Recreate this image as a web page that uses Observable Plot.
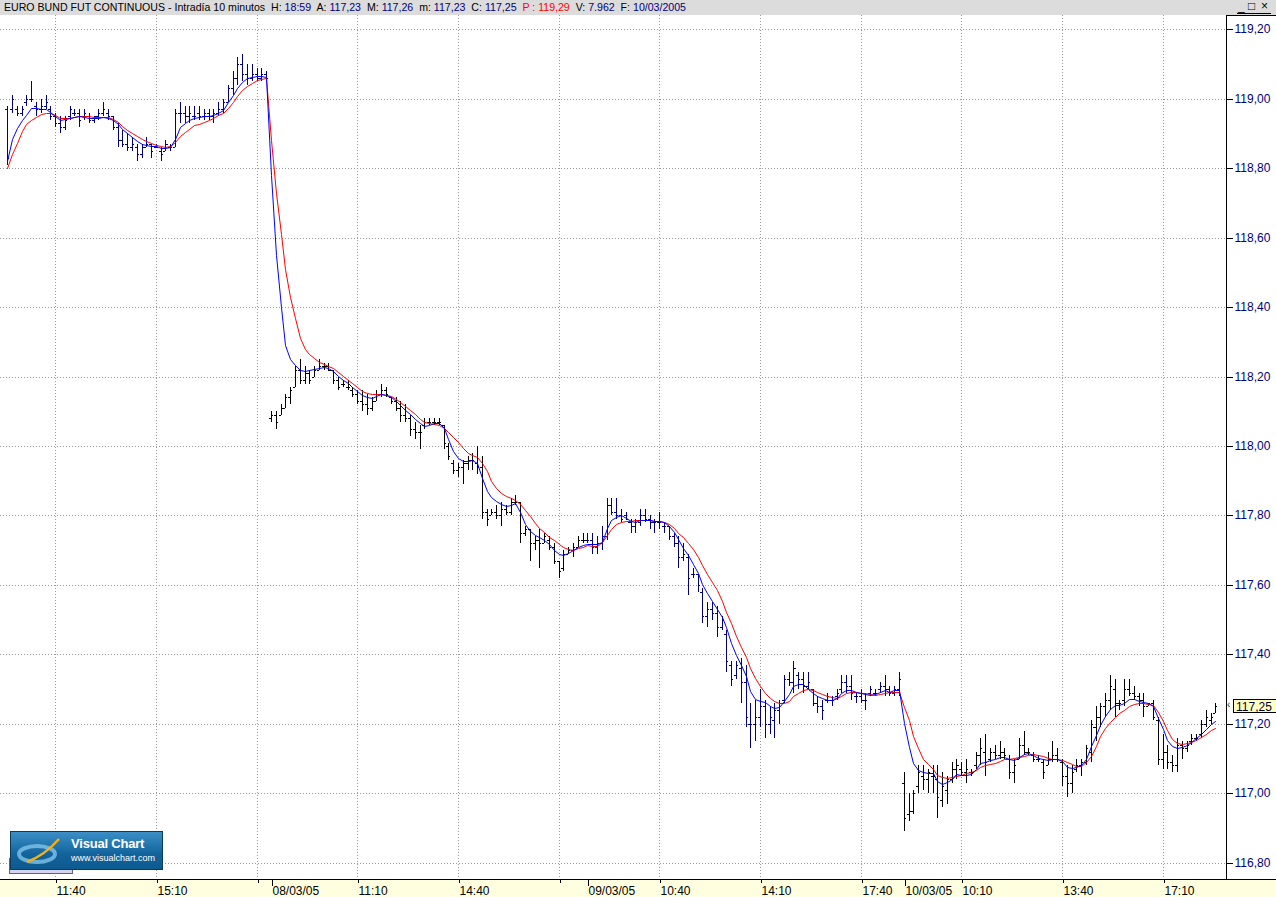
<!DOCTYPE html>
<html><head><meta charset="utf-8">
<script src="https://cdn.jsdelivr.net/npm/d3@7"></script>
<script src="https://cdn.jsdelivr.net/npm/@observablehq/plot@0.6"></script>
<style>
html,body{margin:0;padding:0;background:#fff;}
#wrap{position:relative;width:1276px;height:897px;overflow:hidden;font-family:"Liberation Sans",Arial,sans-serif;}
#header{position:absolute;left:0;top:0;width:1276px;height:15px;background:#dcdcdc;font-size:10.6px;line-height:15px;white-space:nowrap;color:#000;}
#header .t{position:absolute;left:4px;top:0;}
#header .v{color:#000080;}
#header .r{color:#ff0000;}
#btns{position:absolute;left:1237px;top:0px;width:34px;height:13px;border-bottom:1px solid #000;font-size:12px;line-height:13px;}
#btns span{position:absolute;top:0;}
#band{position:absolute;left:0;top:879px;width:1276px;height:17px;background:#ffffdf;border-top:1px solid #000;}
#rtop{position:absolute;left:1226px;top:15px;width:50px;height:1px;background:#000;}
#chart{position:absolute;left:0;top:15px;z-index:2;}
#price{position:absolute;left:1233px;width:43px;height:14px;background:#ffffc0;border:1px solid #000;border-right:none;font-size:12px;line-height:14px;color:#000040;padding-left:2px;box-sizing:border-box;z-index:3;}
#arrow{position:absolute;left:1227px;font-size:10px;line-height:10px;color:#333;z-index:3;}
#logoShadow{position:absolute;left:9px;top:858px;width:62px;height:14px;background:#d4d4f0;border:1px solid #606080;z-index:3;}
#logo{position:absolute;left:10px;top:831px;width:151px;height:37px;background:linear-gradient(#3b8fc6,#12639c 60%,#0d5a8e);border:1px solid #0b3b5e;z-index:4;color:#fff;}
#logo .a{position:absolute;left:60px;top:4px;font-size:13px;font-weight:bold;letter-spacing:-0.2px;}
#logo .b{position:absolute;left:60px;top:21px;font-size:9px;}
#logo svg{position:absolute;left:4px;top:5px;}
</style></head>
<body>
<div id="wrap">
  <div id="header"><span class="t">EURO BUND FUT CONTINUOUS - Intradía 10 minutos&nbsp; H: <span class="v">18:59</span>&nbsp; A: <span class="v" id="hA"></span>&nbsp; M: <span class="v" id="hM"></span>&nbsp; m: <span class="v" id="hm"></span>&nbsp; C: <span class="v" id="hC"></span>&nbsp; <span class="r">P : 119,29</span>&nbsp; V: <span class="v">7.962</span>&nbsp; F: <span class="v">10/03/2005</span></span>
    <div id="btns"><span style="left:1px">_</span><span style="left:11px">□</span><span style="left:24px">×</span></div>
  </div>
  <div id="band"></div>
  <div id="rtop"></div>
  <div id="chart"></div>
  <div id="logoShadow"></div>
  <div id="logo">
    <svg width="50" height="28" viewBox="0 0 50 28"><ellipse cx="22" cy="17" rx="18" ry="8" fill="none" stroke="#7fc4ea" stroke-width="4" opacity="0.8"/><path d="M12 25 Q30 18 44 2" fill="none" stroke="#f0b020" stroke-width="2.5"/></svg>
    <div class="a">Visual Chart</div>
    <div class="b">www.visualchart.com</div>
  </div>
  <div id="arrow">‹</div>
  <div id="price"></div>
</div>
<script>
// ---- bar data: 10-minute bars, index 0 = first bar on screen ----
// day 1 (07/03/05) 55 bars, day 2 (08/03/05) 66, day 3 (09/03/05) 66, day 4 (10/03/05) 66
const dayStart = [0, 55, 121, 187];
const dayColor = ["#000080", "#000000", "#000080", "#000000"];

const high = [
118.98,119.01,118.98,118.98,119.01,119.05,118.99,119.00,119.01,118.98,118.96,118.95,118.95,118.98,118.97,118.97,118.97,118.96,118.95,118.97,118.99,118.97,118.95,118.93,118.91,118.90,118.89,118.87,118.87,118.89,118.87,118.87,118.86,118.88,118.87,118.97,118.99,118.98,118.98,118.98,118.98,118.97,118.97,118.97,118.99,119.00,119.04,119.08,119.12,119.13,119.10,119.10,119.09,119.09,119.08,
118.10,118.10,118.12,118.15,118.17,118.23,118.25,118.23,118.22,118.23,118.25,118.24,118.24,118.22,118.20,118.19,118.19,118.17,118.16,118.16,118.15,118.14,118.16,118.18,118.17,118.14,118.14,118.13,118.12,118.09,118.07,118.06,118.08,118.08,118.08,118.08,118.06,118.01,
117.96,117.95,117.96,117.97,117.98,118.00,117.97,117.82,117.82,117.83,117.84,117.83,117.85,117.86,117.84,117.77,117.76,117.74,117.76,117.75,117.74,117.72,117.67,117.70,117.71,117.72,117.74,117.75,
117.75,117.75,117.74,117.77,117.85,117.85,117.85,117.82,117.81,117.79,117.79,117.82,117.82,117.80,117.79,117.81,117.78,117.77,117.75,117.74,117.72,117.69,117.65,117.63,117.59,117.55,117.55,117.54,117.51,117.47,117.38,117.38,117.39,117.37,117.26,117.27,117.30,117.27,117.25,117.26,117.27,117.34,117.35,117.38,117.35,117.35,117.35,117.30,117.28,117.27,117.29,117.28,117.30,117.34,117.34,117.34,117.29,117.30,117.29,117.31,117.30,117.32,117.34,117.31,117.31,117.35,
117.06,117.00,117.01,117.08,117.08,117.07,117.08,117.08,117.06,117.05,117.09,117.10,117.09,117.10,117.07,117.12,117.16,117.17,117.13,117.14,117.15,117.13,117.11,117.10,117.16,117.18,117.13,117.12,117.11,117.10,117.12,117.15,117.13,117.10,117.08,117.08,117.10,117.10,117.14,117.21,117.25,117.26,117.29,117.34,117.33,117.27,117.33,117.33,117.31,117.29,117.29,117.26,117.27,117.22,117.17,117.14,117.11,117.16,117.15,117.15,117.17,117.17,117.21,117.24,117.23,117.26
];
const low = [
118.81,118.96,118.95,118.95,118.98,118.99,118.95,118.96,118.97,118.94,118.92,118.90,118.91,118.94,118.95,118.92,118.94,118.93,118.93,118.94,118.95,118.94,118.91,118.86,118.86,118.85,118.85,118.82,118.83,118.86,118.83,118.86,118.82,118.85,118.85,118.86,118.93,118.93,118.93,118.94,118.94,118.94,118.94,118.93,118.95,118.96,118.99,119.01,119.04,119.05,119.04,119.05,119.05,119.05,119.05,
118.07,118.05,118.09,118.11,118.12,118.17,118.18,118.18,118.18,118.20,118.22,118.22,118.22,118.18,118.16,118.17,118.16,118.14,118.12,118.10,118.09,118.10,118.13,118.14,118.14,118.12,118.10,118.07,118.07,118.03,118.02,117.99,118.05,118.06,118.06,118.06,117.99,117.96,
117.92,117.91,117.89,117.93,117.93,117.92,117.79,117.77,117.80,117.79,117.77,117.80,117.80,117.83,117.72,117.74,117.67,117.70,117.65,117.72,117.70,117.66,117.62,117.64,117.69,117.68,117.71,117.72,
117.72,117.69,117.69,117.70,117.73,117.80,117.79,117.78,117.79,117.75,117.75,117.77,117.78,117.76,117.75,117.76,117.75,117.73,117.71,117.65,117.67,117.57,117.62,117.58,117.49,117.48,117.50,117.45,117.47,117.35,117.31,117.33,117.26,117.19,117.13,117.15,117.19,117.16,117.17,117.16,117.20,117.26,117.31,117.29,117.30,117.29,117.30,117.25,117.23,117.21,117.26,117.25,117.27,117.29,117.29,117.27,117.26,117.26,117.24,117.28,117.28,117.29,117.28,117.28,117.28,117.28,
116.89,116.92,116.94,117.00,117.01,117.00,117.00,116.93,116.96,116.97,117.03,117.04,117.05,117.03,117.05,117.07,117.08,117.05,117.09,117.10,117.10,117.10,117.04,117.03,117.10,117.11,117.11,117.09,117.09,117.04,117.08,117.09,117.09,117.02,116.99,117.00,117.06,117.05,117.08,117.09,117.15,117.19,117.22,117.24,117.22,117.24,117.25,117.28,117.27,117.25,117.22,117.25,117.21,117.08,117.07,117.07,117.06,117.06,117.10,117.12,117.14,117.15,117.16,117.19,117.20,117.23
];
const open = [
118.97,118.97,118.97,118.96,118.99,119.00,118.98,118.97,118.98,118.97,118.95,118.93,118.92,118.95,118.96,118.96,118.95,118.95,118.94,118.95,118.96,118.96,118.95,118.92,118.88,118.87,118.86,118.86,118.84,118.86,118.87,118.86,118.85,118.85,118.86,118.86,118.96,118.96,118.95,118.95,118.96,118.95,118.96,118.95,118.96,118.97,118.99,119.03,119.06,119.10,119.07,119.06,119.07,119.06,119.07,
118.08,118.09,118.09,118.11,118.14,118.17,118.22,118.19,118.21,118.20,118.22,118.23,118.23,118.22,118.19,118.18,118.17,118.16,118.15,118.13,118.12,118.11,118.13,118.15,118.16,118.14,118.13,118.11,118.09,118.08,118.05,118.04,118.06,118.07,118.07,118.07,118.06,118.00,
117.95,117.93,117.94,117.95,117.96,117.95,117.94,117.81,117.80,117.81,117.80,117.82,117.81,117.84,117.84,117.75,117.76,117.72,117.73,117.72,117.73,117.71,117.67,117.65,117.69,117.70,117.71,117.73,
117.73,117.73,117.71,117.72,117.74,117.83,117.81,117.80,117.80,117.78,117.77,117.78,117.80,117.79,117.78,117.78,117.77,117.77,117.74,117.72,117.68,117.68,117.63,117.63,117.58,117.51,117.53,117.52,117.48,117.46,117.37,117.34,117.36,117.32,117.20,117.20,117.22,117.25,117.20,117.21,117.24,117.27,117.33,117.32,117.34,117.33,117.31,117.30,117.26,117.25,117.27,117.27,117.28,117.30,117.32,117.31,117.28,117.28,117.27,117.29,117.29,117.30,117.31,117.30,117.29,117.30,
117.03,116.94,116.95,117.02,117.05,117.04,117.05,117.04,116.98,117.01,117.04,117.07,117.07,117.06,117.06,117.08,117.11,117.12,117.10,117.12,117.11,117.12,117.10,117.06,117.10,117.14,117.12,117.11,117.10,117.09,117.08,117.10,117.11,117.09,117.05,117.03,117.07,117.08,117.09,117.12,117.19,117.22,117.25,117.27,117.30,117.26,117.27,117.30,117.29,117.28,117.27,117.25,117.26,117.21,117.10,117.12,117.09,117.08,117.14,117.13,117.15,117.16,117.17,117.20,117.21,117.23
];
const close = [
118.83,119.00,118.96,118.97,119.00,119.00,118.97,118.98,118.99,118.95,118.93,118.92,118.94,118.97,118.96,118.94,118.96,118.94,118.95,118.96,118.97,118.95,118.92,118.88,118.87,118.86,118.87,118.84,118.86,118.87,118.85,118.86,118.84,118.87,118.86,118.96,118.96,118.95,118.96,118.95,118.95,118.96,118.95,118.96,118.97,118.99,119.03,119.06,119.10,119.07,119.06,119.07,119.06,119.07,119.06,
118.09,118.07,118.11,118.14,118.16,118.22,118.19,118.21,118.19,118.22,118.23,118.23,118.22,118.19,118.17,118.18,118.17,118.15,118.13,118.12,118.11,118.13,118.15,118.16,118.15,118.13,118.11,118.09,118.08,118.05,118.04,118.04,118.07,118.07,118.07,118.07,118.01,117.97,
117.93,117.94,117.95,117.96,117.96,117.94,117.81,117.79,117.81,117.80,117.82,117.81,117.84,117.84,117.75,117.76,117.72,117.73,117.72,117.74,117.71,117.67,117.64,117.69,117.70,117.71,117.73,117.73,
117.73,117.71,117.72,117.74,117.83,117.81,117.80,117.79,117.79,117.77,117.78,117.80,117.79,117.78,117.78,117.78,117.77,117.74,117.72,117.68,117.69,117.62,117.63,117.60,117.51,117.53,117.52,117.48,117.50,117.38,117.33,117.37,117.32,117.22,117.20,117.22,117.25,117.20,117.22,117.24,117.26,117.33,117.32,117.36,117.33,117.31,117.32,117.26,117.25,117.24,117.28,117.27,117.29,117.32,117.31,117.29,117.28,117.27,117.27,117.30,117.29,117.31,117.30,117.29,117.30,117.33,
116.93,116.95,117.00,117.06,117.04,117.06,117.05,116.99,117.02,117.04,117.07,117.08,117.06,117.07,117.06,117.11,117.13,117.09,117.12,117.11,117.12,117.11,117.06,117.08,117.14,117.12,117.12,117.10,117.10,117.06,117.10,117.11,117.10,117.05,117.03,117.06,117.08,117.09,117.13,117.20,117.22,117.25,117.27,117.31,117.26,117.26,117.30,117.29,117.28,117.27,117.25,117.26,117.22,117.10,117.12,117.09,117.08,117.14,117.13,117.14,117.16,117.16,117.20,117.22,117.22,117.25
];
// fast average (blue) and slow average (red)
const maFast = [
118.821,118.884,118.915,118.939,118.954,118.973,118.973,118.971,118.971,118.963,118.949,118.938,118.941,118.946,118.948,118.949,118.948,118.946,118.945,118.946,118.947,118.946,118.939,118.928,118.913,118.900,118.889,118.877,118.869,118.867,118.865,118.863,118.859,118.859,118.862,118.884,118.918,118.930,118.939,118.944,118.947,118.949,118.951,118.954,118.959,118.968,118.990,119.010,119.032,119.048,119.059,119.064,119.066,119.065,119.063,
118.78,118.55,118.40,118.29,118.25,118.232,118.220,118.217,118.219,118.222,118.226,118.227,118.224,118.215,118.203,118.191,118.182,118.171,118.159,118.148,118.140,118.137,118.143,118.149,118.148,118.141,118.131,118.118,118.104,118.093,118.079,118.066,118.058,118.060,118.066,118.066,118.053,118.02,
117.987,117.965,117.958,117.958,117.960,117.951,117.908,117.871,117.854,117.842,117.833,117.828,117.831,117.837,117.809,117.776,117.756,117.744,117.739,117.730,117.717,117.701,117.689,117.687,117.692,117.700,117.708,117.715,
117.718,117.719,117.717,117.723,117.764,117.788,117.796,117.800,117.793,117.784,117.781,117.787,117.788,117.787,117.784,117.784,117.780,117.769,117.752,117.731,117.707,117.685,117.661,117.633,117.603,117.577,117.553,117.531,117.507,117.479,117.433,117.399,117.370,117.337,117.295,117.272,117.266,117.263,117.252,117.245,117.248,117.266,117.286,117.308,117.316,117.314,117.301,117.288,117.281,117.274,117.269,117.268,117.274,117.288,117.296,117.296,117.291,117.288,117.285,117.284,117.287,117.292,117.296,117.293,117.297,117.298,
117.201,117.134,117.086,117.067,117.061,117.057,117.057,117.036,117.026,117.033,117.042,117.056,117.053,117.053,117.055,117.069,117.088,117.091,117.096,117.100,117.103,117.105,117.100,117.096,117.104,117.113,117.117,117.110,117.101,117.098,117.096,117.100,117.100,117.094,117.077,117.072,117.077,117.081,117.100,117.136,117.169,117.196,117.222,117.242,117.253,117.254,117.260,117.272,117.272,117.266,117.263,117.261,117.250,117.218,117.184,117.153,117.135,117.129,117.132,117.139,117.147,117.160,117.172,117.186,117.199,117.209
];
const maSlow = [
118.802,118.841,118.874,118.908,118.928,118.939,118.947,118.955,118.959,118.958,118.952,118.946,118.944,118.945,118.948,118.950,118.950,118.949,118.947,118.948,118.948,118.947,118.942,118.932,118.921,118.911,118.901,118.892,118.884,118.878,118.872,118.868,118.863,118.860,118.863,118.876,118.892,118.903,118.913,118.923,118.928,118.934,118.940,118.945,118.952,118.958,118.973,118.990,119.007,119.024,119.037,119.046,119.053,119.057,119.059,
118.88,118.73,118.61,118.51,118.43,118.37,118.31,118.280,118.266,118.253,118.243,118.236,118.230,118.224,118.214,118.203,118.191,118.181,118.169,118.159,118.153,118.150,118.150,118.149,118.147,118.143,118.135,118.126,118.116,118.103,118.091,118.079,118.070,118.065,118.063,118.061,118.053,118.04,
118.025,118.012,117.993,117.981,117.974,117.967,117.951,117.927,117.898,117.880,117.866,117.856,117.849,117.844,117.834,117.816,117.798,117.777,117.764,117.751,117.738,117.728,117.717,117.708,117.702,117.701,117.705,117.709,
117.714,117.712,117.712,117.723,117.743,117.760,117.774,117.781,117.784,117.784,117.787,117.788,117.788,117.787,117.785,117.783,117.780,117.775,117.763,117.750,117.739,117.721,117.702,117.680,117.656,117.632,117.608,117.584,117.553,117.521,117.490,117.452,117.421,117.391,117.360,117.332,117.308,117.290,117.274,117.265,117.260,117.260,117.267,117.279,117.288,117.298,117.300,117.298,117.292,117.285,117.279,117.276,117.274,117.279,117.288,117.292,117.292,117.290,117.288,117.285,117.284,117.287,117.289,117.291,117.292,117.293,
117.249,117.211,117.166,117.129,117.100,117.085,117.069,117.053,117.047,117.043,117.046,117.050,117.053,117.057,117.061,117.067,117.075,117.080,117.085,117.088,117.092,117.099,117.100,117.102,117.104,117.108,117.111,117.112,117.110,117.106,117.101,117.100,117.099,117.095,117.089,117.083,117.079,117.079,117.090,117.107,117.136,117.165,117.189,117.206,117.221,117.231,117.239,117.250,117.257,117.261,117.261,117.258,117.254,117.233,117.208,117.182,117.157,117.145,117.142,117.144,117.148,117.153,117.161,117.171,117.181,117.187
];
// axis ticks
const timeTickIdx = [10, 31, 52, 73, 94, 115, 136, 157, 178, 199, 220, 241];
const timeTickLabel = ["11:40", "15:10", "", "11:10", "14:40", "", "10:40", "14:10", "17:40", "10:10", "13:40", "17:10"];
const dayTickIdx = [55, 121, 187];
const dayTickLabel = ["08/03/05", "09/03/05", "10/03/05"];
const priceTicks = [116.8, 117.0, 117.2, 117.4, 117.6, 117.8, 118.0, 118.2, 118.4, 118.6, 118.8, 119.0, 119.2];

const n = high.length;
[low, open, close, maFast, maSlow].forEach((a, k) => {
  if (a.length !== n) throw new Error("array " + k + " length " + a.length + " vs " + n);
});

const bars = d3.range(n).map(i => ({
  i, h: high[i], l: low[i], o: open[i], c: close[i], f: maFast[i], s: maSlow[i],
  day: d3.bisectRight(dayStart, i) - 1
}));
const col = d => dayColor[d.day];
const fmt = v => v.toFixed(2).replace(".", ",");
const timeMap = new Map(timeTickIdx.map((d, k) => [d, timeTickLabel[k]]));
const dayMap = new Map(dayTickIdx.map((d, k) => [d, dayTickLabel[k]]));

const xDom = [-1.523, 254.22];
const chart = Plot.plot({
  width: 1276, height: 882,
  marginLeft: 0, marginRight: 50, marginTop: 0, marginBottom: 18,
  style: {background: "transparent", fontFamily: "'Liberation Sans', Arial, sans-serif", fontSize: "12px", overflow: "visible"},
  x: {domain: xDom, round: true, label: null, axis: null},
  y: {domain: [116.7531, 119.2412], round: true, label: null, axis: null},
  marks: [
    Plot.gridY({ticks: priceTicks, stroke: "#9a9a9a", strokeOpacity: 1, strokeDasharray: "1,2"}),
    Plot.gridX({ticks: timeTickIdx, stroke: "#9a9a9a", strokeOpacity: 1, strokeDasharray: "1,2"}),
    Plot.ruleX(bars, {x: "i", y1: "l", y2: "h", stroke: col, strokeWidth: 1}),
    Plot.ruleY(bars, {y: "o", x1: d => d.i - 0.42, x2: "i", stroke: col, strokeWidth: 1}),
    Plot.ruleY(bars, {y: "c", x1: "i", x2: d => d.i + 0.42, stroke: col, strokeWidth: 1}),
    Plot.line(bars, {x: "i", y: "s", stroke: "#ff0000", strokeWidth: 1}),
    Plot.line(bars, {x: "i", y: "f", stroke: "#0000ff", strokeWidth: 1}),
    Plot.ruleX([xDom[1]], {stroke: "#000", strokeWidth: 1}),
    Plot.axisY({anchor: "right", ticks: priceTicks, tickSize: 6, tickPadding: 2, tickFormat: fmt,
      stroke: "#000", fill: "#000080", fontSize: 12, label: null}),
    Plot.axisX({anchor: "bottom", ticks: timeTickIdx, tickSize: 4, tickPadding: 3,
      tickFormat: d => timeMap.get(d), textAnchor: "start", dx: 1, fill: "#000", stroke: "#000", fontSize: 12, label: null}),
    Plot.axisX({anchor: "bottom", ticks: dayTickIdx, tickSize: 7, tickPadding: 0,
      tickFormat: d => dayMap.get(d), textAnchor: "start", dx: 1, fill: "#000", stroke: "#000", fontSize: 12, label: null})
  ]
});
document.getElementById("chart").appendChild(chart);

// header values from the last bar
document.getElementById("hA").textContent = fmt(open[n - 1]);
document.getElementById("hM").textContent = fmt(high[n - 1]);
document.getElementById("hm").textContent = fmt(low[n - 1]);
document.getElementById("hC").textContent = fmt(close[n - 1]);

// last-price marker on the right scale
const py = 15 + chart.scale("y").apply(close[n - 1]);
const pr = document.getElementById("price");
pr.textContent = fmt(close[n - 1]);
pr.style.top = (py - 7.5) + "px";
document.getElementById("arrow").style.top = (py - 6) + "px";
</script>
</body></html>
